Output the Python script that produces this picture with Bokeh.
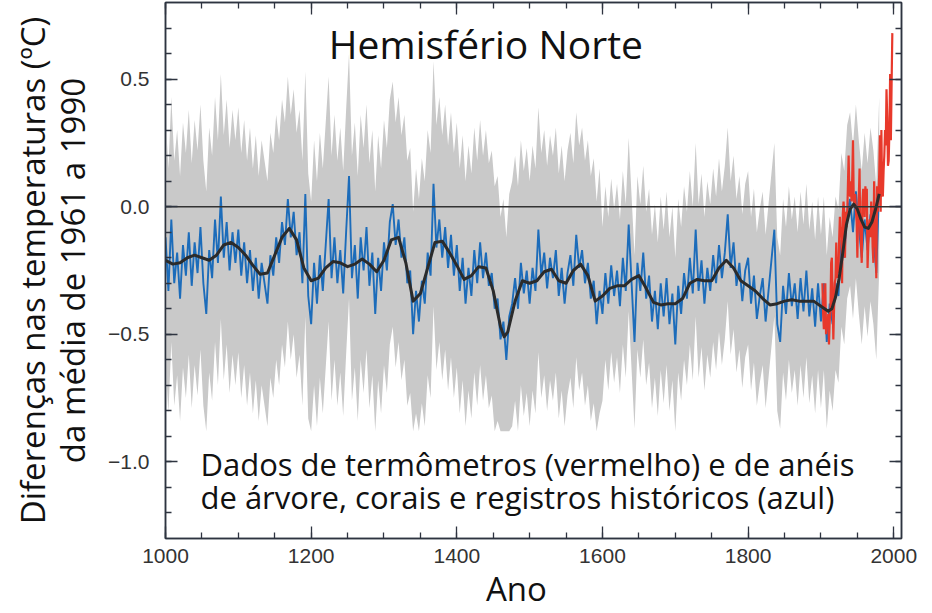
import numpy as np
from bokeh.plotting import figure
from bokeh.models import Range1d, LinearAxis, FixedTicker, Label, Span, ColumnDataSource, CustomJSTickFormatter
from bokeh.embed import file_html
from bokeh.resources import INLINE

# ---------------- data ----------------
BLUE_YEARS = list(range(1000, 1981, 4))
BLUE_VALUES = [
    # 1000-1096
    -0.12, -0.33, -0.05, -0.30, -0.18, -0.36, -0.15, -0.27, -0.10, -0.31,
    -0.14, -0.26, -0.08, -0.30, -0.42, -0.17, -0.28, -0.05, -0.22, 0.04,
    -0.20, -0.06, -0.25, -0.10, -0.22,
    # 1100-1196
    -0.09, -0.27, -0.14, -0.30, -0.17, -0.33, -0.20, -0.36, -0.22, -0.30,
    -0.38, -0.19, -0.27, -0.12, -0.22, -0.06, -0.15, 0.03, -0.12, -0.02,
    -0.19, -0.10, -0.30, 0.05, -0.35,
    # 1200-1296
    -0.46, -0.22, -0.38, -0.19, -0.33, -0.15, 0.03, -0.28, -0.12, -0.30,
    -0.17, -0.34, -0.10, 0.12, -0.28, -0.15, -0.36, -0.12, -0.25, -0.08,
    -0.31, -0.18, -0.42, -0.20, -0.33,
    # 1300-1396
    -0.14, -0.25, -0.06, 0.01, -0.15, -0.05, -0.20, -0.12, -0.30, -0.25,
    -0.50, -0.33, -0.45, -0.29, -0.38, -0.18, -0.27, 0.09, -0.16, -0.05,
    -0.20, -0.08, -0.24, -0.11, -0.27,
    # 1400-1496
    -0.15, -0.33, -0.20, -0.38, -0.24, -0.35, -0.17, -0.30, -0.14, -0.28,
    -0.18, -0.31, -0.26, -0.40, -0.36, -0.52, -0.45, -0.60, -0.43, -0.38,
    -0.28, -0.40, -0.22, -0.34, -0.25,
    # 1500-1596
    -0.38, -0.24, -0.33, -0.09, -0.27, -0.18, -0.32, -0.20, -0.28, -0.17,
    -0.35, -0.24, -0.38, -0.26, -0.19, -0.31, -0.11, -0.24, -0.17, -0.30,
    -0.22, -0.36, -0.29, -0.46, -0.33,
    # 1600-1696
    -0.42, -0.26, -0.38, -0.23, -0.35, -0.25, -0.39, -0.20, -0.33, -0.07,
    -0.30, -0.53, -0.22, -0.33, -0.18, -0.36, -0.27, -0.45, -0.33, -0.48,
    -0.30, -0.43, -0.28, -0.46, -0.34,
    # 1700-1796
    -0.54, -0.31, -0.42, -0.26, -0.36, -0.20, -0.34, -0.09, -0.33, -0.21,
    -0.38, -0.24, -0.33, -0.19, -0.30, -0.15, -0.28, -0.18, -0.03, -0.24,
    -0.14, -0.31, -0.22, -0.37, -0.25,
    # 1800-1896
    -0.20, -0.38, -0.27, -0.44, -0.35, -0.28, -0.45, -0.33, -0.21, -0.09,
    -0.46, -0.53, -0.31, -0.42, -0.26, -0.39, -0.30, -0.44, -0.28, -0.41,
    -0.25, -0.43, -0.32, -0.47, -0.30,
    # 1900-1980
    -0.45, -0.30, -0.53, -0.38, -0.46, -0.30, -0.35, -0.13, -0.20, -0.02,
    0.03, -0.10, 0.06, -0.08, -0.20, -0.05, -0.17, -0.03, -0.12, -0.26,
    0.09,
]

# uncertainty half-width of the grey band, by period
UNC_START = [1000, 1600]
UNC_HALF = [0.48, 0.34]
GREY_FLOOR = -0.88  # lowest visible edge of the grey band

SMOOTH_YEARS = (list(range(1000, 1461, 10)) + [1465] + list(range(1470, 1911, 10))
                + [1915, 1920, 1925, 1930, 1935, 1940, 1945, 1950, 1955, 1960, 1965, 1970, 1975, 1980])
SMOOTH_VALUES = [
    -0.21, -0.225, -0.22, -0.20, -0.19, -0.20, -0.21, -0.19, -0.15, -0.14,
    -0.16, -0.19, -0.23, -0.265, -0.26, -0.19, -0.12, -0.085, -0.13, -0.24,
    -0.29, -0.28, -0.24, -0.215, -0.22, -0.235, -0.225, -0.205, -0.225, -0.255,
    -0.21, -0.13, -0.12, -0.22, -0.37, -0.34, -0.24, -0.14, -0.135, -0.18,
    -0.23, -0.285, -0.27, -0.235, -0.24, -0.33, -0.47, -0.51, -0.49, -0.37, -0.29,
    -0.30, -0.29, -0.255, -0.245, -0.29, -0.30, -0.25, -0.225, -0.27, -0.37,
    -0.35, -0.32, -0.31, -0.31, -0.285, -0.27, -0.32, -0.375, -0.385, -0.38,
    -0.38, -0.36, -0.30, -0.285, -0.29, -0.29, -0.24, -0.21, -0.24, -0.29,
    -0.31, -0.33, -0.36, -0.385, -0.38, -0.37, -0.365, -0.37, -0.37, -0.37,
    -0.39, -0.41, -0.40, -0.355, -0.28, -0.18, -0.07, -0.01, 0.01, -0.01,
    -0.05, -0.08, -0.085, -0.06, -0.01, 0.05,
]

RED_YEARS = list(range(1902, 1999))
RED_VALUES = [
    -0.30, -0.42, -0.48, -0.38, -0.30, -0.50, -0.44, -0.47, -0.42, -0.54,
    -0.45, -0.40, -0.22, -0.20, -0.36, -0.52, -0.40, -0.30, -0.28, -0.14,
    -0.28, -0.24, -0.26, -0.13, -0.04, -0.10, -0.08, -0.30, -0.03, 0.02,
    -0.02, -0.20, -0.02, -0.08, -0.04, 0.08, 0.20, 0.06, 0.04, 0.10,
    0.02, 0.12, 0.26, 0.03, 0.00, 0.05, -0.02, -0.06, -0.20, -0.03,
    0.04, 0.15, -0.10, -0.14, -0.22, 0.02, 0.07, 0.03, -0.04, 0.08,
    0.04, 0.07, -0.24, -0.15, -0.08, -0.05, -0.12, 0.02, -0.04, -0.16,
    -0.22, 0.10, -0.16, -0.05, -0.28, 0.08, -0.02, 0.05, 0.13, 0.28,
    -0.02, 0.30, 0.06, 0.04, 0.14, 0.20, 0.30, 0.24, 0.46, 0.35,
    0.16, 0.18, 0.30, 0.52, 0.26, 0.48, 0.68,
]

X_MAJOR = [1000, 1200, 1400, 1600, 1800, 2000]
Y_MAJOR = [-1.0, -0.5, 0.0, 0.5]
Y_LABELS = {-1.0: "\u22121.0", -0.5: "\u22120.5", 0.0: "0.0", 0.5: "0.5"}

assert len(BLUE_YEARS) == len(BLUE_VALUES)
assert len(SMOOTH_YEARS) == len(SMOOTH_VALUES)
assert len(RED_YEARS) == len(RED_VALUES)

# ---------------- derived ----------------
by = np.array(BLUE_YEARS, dtype=float)
bv = np.array(BLUE_VALUES, dtype=float)
half = np.array([UNC_HALF[np.searchsorted(UNC_START, y, side="right") - 1] for y in by])
grey_src = ColumnDataSource(dict(x=by, top=bv + half, bottom=np.maximum(bv - half, GREY_FLOOR)))

AXIS_COLOR = "#2e3440"
TICK_FONT = "Liberation Sans"

p = figure(width=932, height=613, output_backend="svg", toolbar_location=None,
           x_range=Range1d(1000, 2010.6), y_range=Range1d(-1.30, 0.80),
           min_border_left=165, min_border_right=31, min_border_top=2, min_border_bottom=73,
           background_fill_color="white", border_fill_color="white")
p.grid.visible = False
p.outline_line_color = AXIS_COLOR
p.outline_line_width = 1.5

p.varea(x="x", y1="bottom", y2="top", source=grey_src, fill_color="#c9c9c9")
p.add_layout(Span(location=0, dimension="width", line_color="#333333", line_width=1.5, level="glyph"))
p.line(BLUE_YEARS, BLUE_VALUES, line_color="#1c6cba", line_width=1.9)
p.line(RED_YEARS, RED_VALUES, line_color="#e8392b", line_width=2.2)
p.line(SMOOTH_YEARS, SMOOTH_VALUES, line_color="#2b2b2b", line_width=3, line_join="round")

xt = FixedTicker(ticks=X_MAJOR, minor_ticks=list(range(1000, 2001, 50)))
yt = FixedTicker(ticks=Y_MAJOR, minor_ticks=[round(v, 1) for v in np.arange(-1.2, 0.75, 0.1)])

def style(ax, labels=True):
    ax.axis_line_color = AXIS_COLOR
    ax.axis_line_width = 1.5
    ax.major_tick_line_color = AXIS_COLOR
    ax.minor_tick_line_color = AXIS_COLOR
    ax.major_tick_line_width = 1.3
    ax.minor_tick_line_width = 1.3
    ax.major_tick_in = 12
    ax.major_tick_out = 0
    ax.minor_tick_in = 6
    ax.minor_tick_out = 0
    ax.major_label_text_font = TICK_FONT
    ax.major_label_text_font_size = "21px"
    ax.major_label_text_color = "#333333"
    if not labels:
        ax.formatter = CustomJSTickFormatter(code="return ''")
        ax.major_label_standoff = 0
        ax.major_label_text_font_size = "1px"

xa = p.xaxis[0]
xa.ticker = xt
style(xa)
xa.major_label_standoff = 10
xa.axis_label = "Ano" + "\u00a0" * 4
xa.axis_label_text_font = "Open Sans"
xa.axis_label_text_font_size = "33px"
xa.axis_label_text_font_style = "normal"
xa.axis_label_text_color = "#111111"
xa.axis_label_standoff = 0
xa.axis_label_text_line_height = 0.8

ya = p.yaxis[0]
ya.ticker = yt
style(ya)
ya.major_label_overrides = Y_LABELS
ya.major_label_standoff = 16
ya.axis_label = "Diferenças nas temperaturas (ºC)\nda média de 1961 a 1990"
ya.axis_label_text_font = "Open Sans"
ya.axis_label_text_font_size = "33px"
ya.axis_label_text_font_style = "normal"
ya.axis_label_text_color = "#111111"
ya.axis_label_standoff = 10
ya.axis_label_text_line_height = 0.89

top = LinearAxis(ticker=xt)
style(top, labels=False)
p.add_layout(top, "above")
right = LinearAxis(ticker=yt)
style(right, labels=False)
p.add_layout(right, "right")

# ---------------- texts ----------------
p.add_layout(Label(x=1440, y=0.64, text="Hemisfério Norte", text_align="center", text_baseline="middle",
                   text_font="Open Sans", text_font_size="39px", text_color="#111111"))
p.add_layout(Label(x=1048, y=-1.008, text="Dados de termômetros (vermelho) e de anéis",
                   text_align="left", text_baseline="middle",
                   text_font="Open Sans", text_font_size="31px", text_color="#111111"))
p.add_layout(Label(x=1048, y=-1.137, text="de árvore, corais e registros históricos (azul)",
                   text_align="left", text_baseline="middle",
                   text_font="Open Sans", text_font_size="31px", text_color="#111111"))

open("out.html", "w").write(file_html(p, INLINE))
